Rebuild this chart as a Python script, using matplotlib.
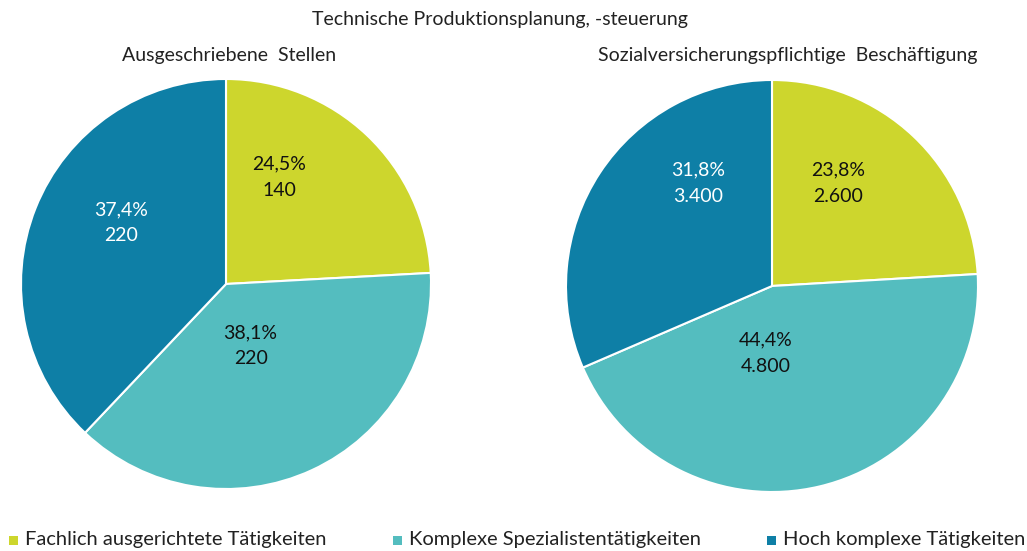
import matplotlib
matplotlib.use("Agg")
import matplotlib.pyplot as plt

plt.rcParams['font.family'] = ['Lato', 'DejaVu Sans']

# Daten
kategorien = ['Fachlich ausgerichtete Tätigkeiten', 'Komplexe Spezialistentätigkeiten', 'Hoch komplexe Tätigkeiten']
farben = ['#CDD62D', '#54BDBF', '#0E7FA6']
textfarben = ['#111111', '#111111', '#FFFFFF']

stellen_anz = [140, 220, 220]
stellen_pct = ['24,5%', '38,1%', '37,4%']
stellen_lbl = ['140', '220', '220']

besch_anz = [2600, 4800, 3400]
besch_pct = ['23,8%', '44,4%', '31,8%']
besch_lbl = ['2.600', '4.800', '3.400']

W, H = 1027, 551
fig = plt.figure(figsize=(W / 100, H / 100), dpi=100)


def pie_axes(cx, cy, r):
    return fig.add_axes([(cx - r) / W, (H - cy - r) / H, 2 * r / W, 2 * r / H])


def draw_pie(ax, werte, pct, lbl, label_pos):
    ax.pie(werte, colors=farben, startangle=90, counterclock=False, radius=1,
           wedgeprops=dict(edgecolor='white', linewidth=1.5))
    for i, (x, y) in enumerate(label_pos):
        ax.text(x, y, pct[i] + "\n" + lbl[i], ha='center', va='center', fontsize=14,
                color=textfarben[i], linespacing=1.65)
    ax.set_xlim(-1, 1)
    ax.set_ylim(-1, 1)
    ax.axis('off')


ax1 = pie_axes(226, 284, 205)
draw_pie(ax1, stellen_anz, stellen_pct, stellen_lbl, [(0.26, 0.52), (0.12, -0.30), (-0.51, 0.30)])

ax2 = pie_axes(772, 286, 206)
draw_pie(ax2, besch_anz, besch_pct, besch_lbl, [(0.32, 0.50), (-0.03, -0.325), (-0.36, 0.50)])

fig.text(500 / W, 1 - 20 / H, 'Technische Produktionsplanung, -steuerung', ha='center', va='center',
         fontsize=14, color='#222222')
fig.text(229 / W, 1 - 55 / H, 'Ausgeschriebene  Stellen', ha='center', va='center',
         fontsize=14, color='#222222')
fig.text(788 / W, 1 - 55 / H, 'Sozialversicherungspflichtige  Beschäftigung', ha='center', va='center',
         fontsize=14, color='#222222')

# Legende
leg_x = [9, 393, 767]
for x, name, c in zip(leg_x, kategorien, farben):
    fig.patches.append(plt.Rectangle((x / W, 1 - 545 / H), 9 / W, 9 / H, transform=fig.transFigure,
                                     facecolor=c, edgecolor='none'))
    fig.text((x + 16) / W, 1 - 540 / H, name, ha='left', va='center', fontsize=14.5, color='#222222')

fig.savefig('out.png', dpi=100)
